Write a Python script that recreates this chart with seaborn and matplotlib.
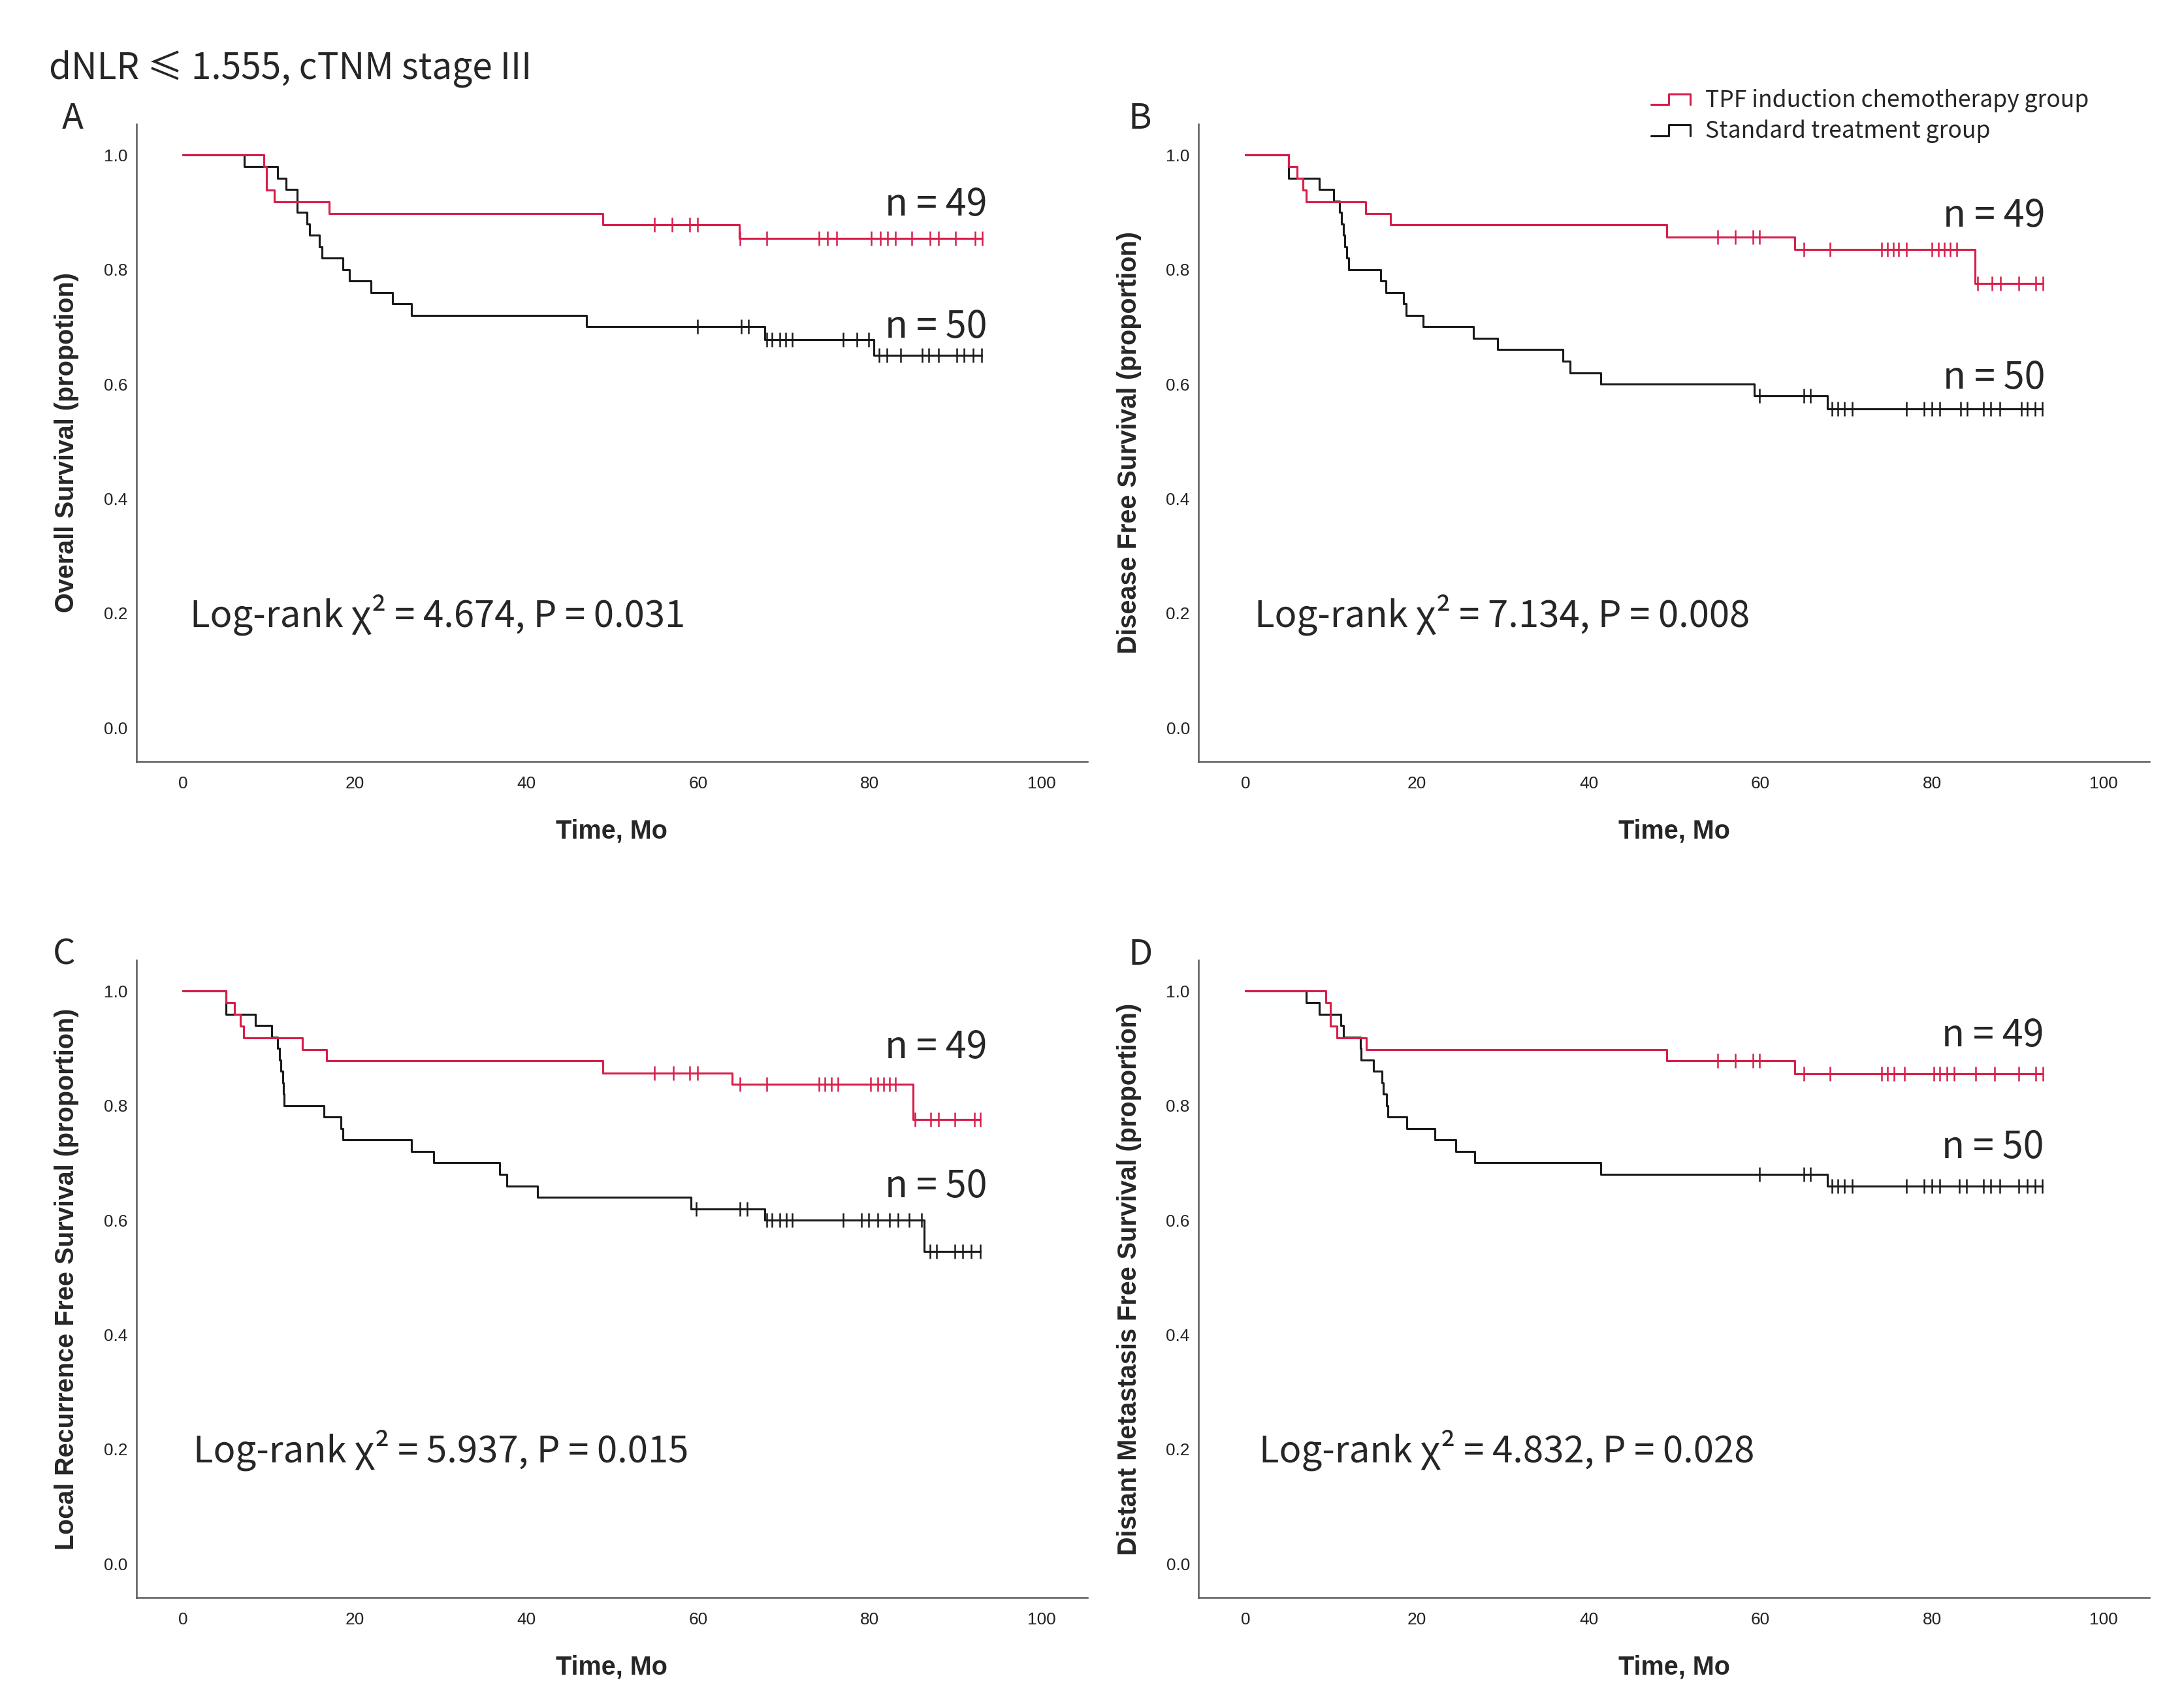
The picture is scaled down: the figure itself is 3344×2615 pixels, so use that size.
import numpy as np
import pandas as pd
import matplotlib.pyplot as plt
import seaborn as sns
from matplotlib.lines import Line2D
from matplotlib.legend_handler import HandlerBase

# ---- values ----
groups = ["TPF induction chemotherapy group", "Standard treatment group"]
n_labels = ["n = 49", "n = 50"]

# A: overall survival
os_tpf_t = [9.4, 9.7, 10.6, 17.0, 48.9, 64.8]
os_tpf_s = [0.980, 0.939, 0.918, 0.898, 0.878, 0.854]
os_tpf_cens = [54.9, 57.0, 59.0, 59.9, 64.9, 68.0, 74.1, 75.1, 76.1, 80.2, 81.2,
               82.1, 83.0, 84.9, 87.0, 88.0, 90.0, 92.3, 93.1]
os_std_t = [7.1, 11.0, 12.0, 13.3, 14.4, 14.7, 15.9, 16.2, 18.6, 19.4, 21.9,
            24.4, 26.6, 47.0, 67.8, 80.5]
os_std_s = [0.98, 0.96, 0.94, 0.90, 0.88, 0.86, 0.84, 0.82, 0.80, 0.78, 0.76,
            0.74, 0.72, 0.70, 0.678, 0.650]
os_std_cens = [59.9, 65.0, 65.9, 68.0, 68.6, 69.5, 70.2, 71.0, 76.9, 78.5, 79.9,
               81.1, 82.0, 83.6, 86.1, 86.9, 88.0, 90.1, 91.0, 92.0, 93.0]

# B: disease free survival
dfs_tpf_t = [5.0, 6.0, 6.7, 7.1, 14.0, 16.9, 49.1, 64.0, 85.0]
dfs_tpf_s = [0.980, 0.959, 0.939, 0.918, 0.898, 0.878, 0.857, 0.835, 0.776]
dfs_tpf_cens = [55.0, 57.1, 59.1, 59.9, 65.1, 68.1, 74.1, 74.8, 75.5, 76.1, 77.0,
                80.0, 80.7, 81.4, 82.1, 82.9, 85.3, 87.0, 88.0, 90.1, 92.1, 92.9]
dfs_std_t = [5.0, 8.6, 10.3, 11.0, 11.2, 11.4, 11.6, 11.8, 12.0, 15.8, 16.4,
             18.4, 18.7, 20.7, 26.6, 29.4, 37.0, 37.8, 41.4, 59.3, 67.8]
dfs_std_s = [0.96, 0.94, 0.92, 0.90, 0.88, 0.86, 0.84, 0.82, 0.80, 0.78, 0.76,
             0.74, 0.72, 0.70, 0.68, 0.66, 0.64, 0.62, 0.60, 0.58, 0.557]
dfs_std_cens = [59.9, 65.1, 65.8, 68.3, 69.0, 69.8, 70.7, 77.0, 79.1, 80.0, 80.9,
                83.3, 84.1, 86.0, 86.8, 87.9, 90.4, 91.1, 92.0, 92.8]

# C: local recurrence free survival
lrfs_tpf_t = [5.0, 6.0, 6.7, 7.05, 13.9, 16.7, 48.9, 64.0, 85.0]
lrfs_tpf_s = [0.980, 0.960, 0.939, 0.918, 0.898, 0.878, 0.857, 0.837, 0.776]
lrfs_tpf_cens = [54.9, 57.1, 59.0, 59.9, 64.9, 68.0, 74.1, 74.8, 75.5, 76.3, 80.1,
                 80.9, 81.6, 82.3, 83.0, 85.3, 87.1, 88.0, 89.9, 92.2, 92.9]
lrfs_std_t = [5.0, 8.4, 10.3, 11.0, 11.2, 11.4, 11.6, 11.7, 11.8, 16.4, 18.4,
              18.6, 26.6, 29.2, 36.9, 37.7, 41.3, 59.2, 67.8, 86.3]
lrfs_std_s = [0.96, 0.94, 0.92, 0.90, 0.88, 0.86, 0.84, 0.82, 0.80, 0.78, 0.76,
              0.74, 0.72, 0.70, 0.68, 0.66, 0.64, 0.62, 0.60, 0.545]
lrfs_std_cens = [59.8, 64.9, 65.7, 68.0, 68.6, 69.5, 70.3, 71.0, 76.9, 79.0, 79.9,
                 80.9, 82.3, 83.3, 84.6, 86.0, 87.0, 87.8, 89.9, 90.8, 91.8, 92.9]

# D: distant metastasis free survival
dmfs_tpf_t = [9.4, 9.9, 10.7, 14.1, 49.1, 64.0]
dmfs_tpf_s = [0.980, 0.939, 0.918, 0.898, 0.878, 0.856]
dmfs_tpf_cens = [55.0, 57.1, 59.1, 59.9, 65.1, 68.1, 74.1, 74.8, 75.6, 76.8, 80.2,
                 80.9, 81.7, 82.6, 85.1, 87.3, 90.1, 92.1, 92.9]
dmfs_std_t = [7.1, 8.6, 11.1, 11.45, 13.4, 13.5, 14.9, 15.9, 16.1, 16.45, 16.6,
              18.8, 22.1, 24.5, 26.7, 41.4, 67.8]
dmfs_std_s = [0.98, 0.96, 0.94, 0.92, 0.90, 0.88, 0.86, 0.84, 0.82, 0.80, 0.78,
              0.76, 0.74, 0.72, 0.70, 0.68, 0.66]
dmfs_std_cens = [59.9, 65.1, 65.8, 68.3, 69.0, 69.8, 70.7, 77.0, 79.1, 80.0, 80.9,
                 83.2, 84.0, 86.0, 86.8, 87.9, 90.1, 91.1, 92.0, 92.8]

panel_letters = ["A", "B", "C", "D"]
ylabels = ["Overall Survival (propotion)",
           "Disease Free Survival (proportion)",
           "Local Recurrence Free Survival (proportion)",
           "Distant Metastasis Free Survival (proportion)"]
chi2_vals = ["4.674", "7.134", "5.937", "4.832"]
p_vals = ["0.031", "0.008", "0.015", "0.028"]
x_ticks = [0, 20, 40, 60, 80, 100]
y_ticks = [0.0, 0.2, 0.4, 0.6, 0.8, 1.0]

panels = [
    ((os_tpf_t, os_tpf_s, os_tpf_cens), (os_std_t, os_std_s, os_std_cens)),
    ((dfs_tpf_t, dfs_tpf_s, dfs_tpf_cens), (dfs_std_t, dfs_std_s, dfs_std_cens)),
    ((lrfs_tpf_t, lrfs_tpf_s, lrfs_tpf_cens), (lrfs_std_t, lrfs_std_s, lrfs_std_cens)),
    ((dmfs_tpf_t, dmfs_tpf_s, dmfs_tpf_cens), (dmfs_std_t, dmfs_std_s, dmfs_std_cens)),
]

# ---- layout (label anchors in data coordinates) ----
n_pos = [[(87.7, 0.894), (87.7, 0.681)],
         [(87.2, 0.875), (87.2, 0.592)],
         [(87.7, 0.883), (87.7, 0.640)],
         [(87.1, 0.904), (87.1, 0.708)]]
lr_pos = [(0.8, 0.176), (1.1, 0.176), (1.2, 0.177), (1.6, 0.177)]

RED = "#D81E4A"
BLACK = "#1a1a1a"
palette = {groups[0]: RED, groups[1]: BLACK}
CJK = ["Noto Sans CJK SC", "DejaVu Sans"]
ARIAL = ["Liberation Sans", "DejaVu Sans"]


def km_frame(times, surv, cens, name):
    t_end = max(max(cens), times[-1])
    x = [0.0] + list(times) + [t_end]
    y = [1.0] + list(surv) + [surv[-1]]
    steps = pd.DataFrame({"time": x, "surv": y, "group": name})
    idx = np.searchsorted(times, cens, side="right") - 1
    s_arr = np.concatenate([[1.0], surv])
    marks = pd.DataFrame({"time": cens, "surv": s_arr[idx + 1], "group": name})
    return steps, marks


class StepHandle(HandlerBase):
    def create_artists(self, legend, orig_handle, xdescent, ydescent,
                       width, height, fontsize, trans):
        xs = np.array([0, 0.45, 0.45, 1, 1]) * width - xdescent
        ys = np.array([0.15, 0.15, 0.8, 0.8, 0.15]) * height - ydescent
        line = Line2D(xs, ys, color=orig_handle.get_color(), lw=orig_handle.get_linewidth())
        line.set_transform(trans)
        return [line]


sns.set_style("white")
plt.rcParams["font.family"] = ARIAL

fig = plt.figure(figsize=(3344 / 300, 2615 / 300), dpi=300)
ax_w, ax_h = 0.4355, 0.3731
lefts = [0.0624, 0.5488]
bottoms = [0.5542, 0.0647]

for i, (tpf, std) in enumerate(panels):
    ax = fig.add_axes([lefts[i % 2], bottoms[i // 2], ax_w, ax_h])
    steps_list, marks_list = [], []
    for (t, s, c), name in zip((tpf, std), groups):
        st, mk = km_frame(t, s, c, name)
        steps_list.append(st)
        marks_list.append(mk)
    steps = pd.concat(steps_list, ignore_index=True)
    marks = pd.concat(marks_list, ignore_index=True)

    sns.lineplot(data=steps, x="time", y="surv", hue="group", palette=palette,
                 hue_order=groups[::-1], estimator=None, sort=False,
                 drawstyle="steps-post", lw=0.75, legend=False, ax=ax)
    for name in groups:
        sub = marks[marks["group"] == name]
        sns.scatterplot(data=sub, x="time", y="surv", marker="|", s=26,
                        color=palette[name], linewidth=0.6, legend=False, ax=ax)

    ax.set_xlim(-5.45, 105.35)
    ax.set_ylim(-0.059, 1.054)
    ax.set_xticks(x_ticks)
    ax.set_yticks(y_ticks)
    ax.set_yticklabels([f"{v:.1f}" for v in y_ticks])
    ax.tick_params(axis="both", length=0, labelsize=6.3, colors="#222222")
    ax.tick_params(axis="x", pad=5.4)
    ax.tick_params(axis="y", pad=3.2)
    sns.despine(ax=ax)
    for side in ("left", "bottom"):
        ax.spines[side].set_color("#5a5a5a")
        ax.spines[side].set_linewidth(0.6)

    ax.set_xlabel("Time, Mo", fontsize=9.5, fontweight="bold", labelpad=10)
    ax.set_ylabel(ylabels[i], fontsize=9.5, fontweight="bold", labelpad=9)

    for lab, (nx, ny) in zip(n_labels, n_pos[i]):
        ax.text(nx, ny, lab, ha="center", va="baseline", fontsize=13.8, family=CJK)
    lx, ly = lr_pos[i]
    ax.text(lx, ly, f"Log-rank \u03c7\u00b2 = {chi2_vals[i]}, P = {p_vals[i]}",
            ha="left", va="baseline", fontsize=13.5, family=CJK)

letter_pos = [(0.0283, 0.9248), (0.5166, 0.9248), (0.0243, 0.4353), (0.5166, 0.4353)]
for (lx, ly), letter in zip(letter_pos, panel_letters):
    fig.text(lx, ly, letter, ha="left", va="baseline", fontsize=13, family=CJK)

fig.text(0.0223, 0.954, "dNLR \u2264 1.555, cTNM stage III", ha="left", va="baseline",
         fontsize=13.2, family=CJK)

handles = [Line2D([], [], color=RED, lw=0.75), Line2D([], [], color=BLACK, lw=0.75)]
fig.legend(handles, groups, handler_map={Line2D: StepHandle()}, loc="upper left",
           bbox_to_anchor=(0.7559, 0.948), frameon=False, borderpad=0,
           borderaxespad=0, handlelength=1.7, handletextpad=0.65,
           labelspacing=0.32, prop={"family": CJK, "size": 8.5})

fig.savefig("out.png", dpi=300)
